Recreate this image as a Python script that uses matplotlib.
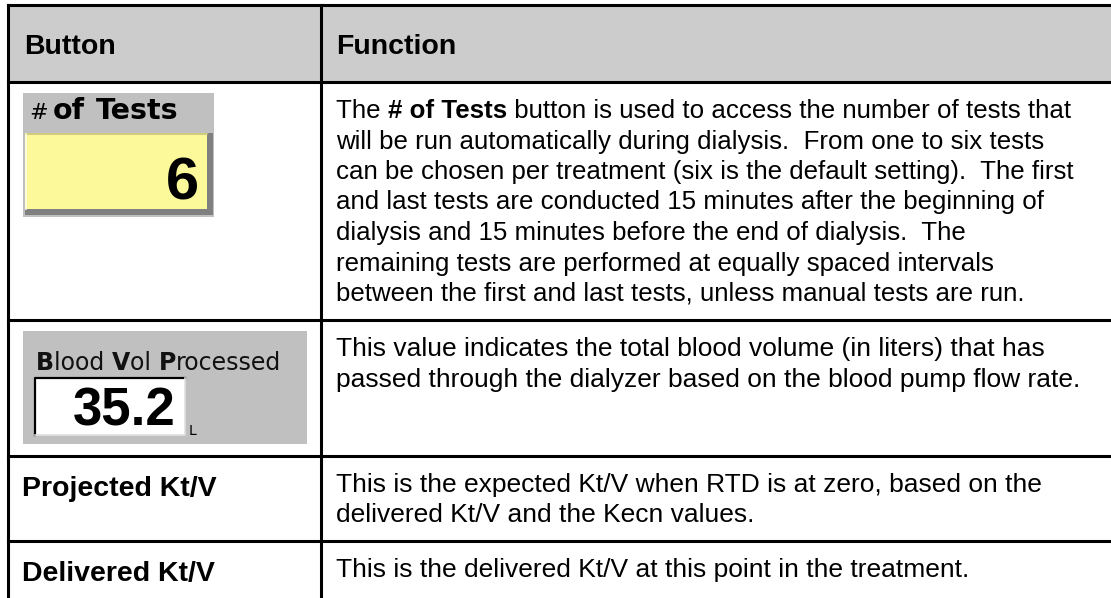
import matplotlib.pyplot as plt
from matplotlib.patches import Rectangle

# table content
headers = ["Button", "Function"]
widget1_label = ["#", "of", "Tests"]
widget1_value = "6"
widget2_label = [("B", "bold"), ("lood ", "normal"), ("V", "bold"), ("ol ", "normal"),
                 ("P", "bold"), ("rocessed", "normal")]
widget2_value = "35.2"
widget2_unit = "L"
text_buttons = ["Projected Kt/V", "Delivered Kt/V"]
descriptions = [
    ["The **# of Tests** button is used to access the number of tests that",
     "will be run automatically during dialysis.  From one to six tests",
     "can be chosen per treatment (six is the default setting).  The first",
     "and last tests are conducted 15 minutes after the beginning of",
     "dialysis and 15 minutes before the end of dialysis.  The",
     "remaining tests are performed at equally spaced intervals",
     "between the first and last tests, unless manual tests are run."],
    ["This value indicates the total blood volume (in liters) that has",
     "passed through the dialyzer based on the blood pump flow rate."],
    ["This is the expected Kt/V when RTD is at zero, based on the",
     "delivered Kt/V and the Kecn values."],
    ["This is the delivered Kt/V at this point in the treatment."],
]

# layout (pixels)
W, H = 1111, 598
left, right, col = 8, 1130, 321
rows = [5, 82, 320, 456, 541, 640]
FONT = "Liberation Sans"
body_sizes = [18.6, 19, 19, 19]
head_size = 20.5
pitch = 30.5

fig = plt.figure(figsize=(W / 100, H / 100), dpi=100)
ax = fig.add_axes([0, 0, 1, 1])
ax.set_xlim(0, W)
ax.set_ylim(H, 0)
ax.axis("off")


def rich(x, y, parts, **kw):
    prev = None
    for s, wt in parts:
        if prev is None:
            prev = ax.text(x, y, s, va="baseline", ha="left", fontweight=wt, **kw)
        else:
            prev = ax.annotate(s, xy=(1, y), xycoords=(prev, "data"), va="baseline",
                               ha="left", fontweight=wt, **kw)


# header band and grid
ax.add_patch(Rectangle((left, rows[0]), right - left, rows[1] - rows[0], fc="#cccccc", ec="none"))
lw = 2.2
for y in rows[:-1]:
    ax.plot([left, right], [y, y], color="black", lw=lw, solid_capstyle="projecting")
for x in [left, col, right]:
    ax.plot([x, x], [rows[0], rows[-1]], color="black", lw=lw, solid_capstyle="projecting")

ax.text(24, 54, headers[0], fontsize=head_size, fontweight="bold", family=FONT, va="baseline")
ax.text(336, 54, headers[1], fontsize=head_size, fontweight="bold", family=FONT, va="baseline")

# descriptions
for i, lines in enumerate(descriptions):
    y0 = rows[i + 1] + 36
    for j, line in enumerate(lines):
        segs = line.split("**")
        parts = [(s, "bold" if k % 2 else "normal") for k, s in enumerate(segs) if s]
        rich(336, y0 + j * pitch, parts, fontsize=body_sizes[i], family=FONT, color="black")

# widget 1: "# of Tests"
ax.add_patch(Rectangle((23, 93), 191, 124, fc="#c0c0c0", ec="none"))
ax.add_patch(Rectangle((25, 133), 188, 82, fc="#808080", ec="none"))
ax.add_patch(Rectangle((25, 133), 182, 76, fc="#fcf99b", ec="none"))
ax.plot([25, 207], [134, 134], color="#c8c47a", lw=1.2)
ax.plot([26, 26], [134, 209], color="#fffde0", lw=1.2)
ax.text(29, 119, widget1_label[0], fontsize=16, family="DejaVu Sans", va="baseline")
ax.text(53, 119, widget1_label[1], fontsize=20.5, fontweight="bold", family="DejaVu Sans", va="baseline")
ax.text(96, 119, widget1_label[2], fontsize=20.5, fontweight="bold", family="DejaVu Sans", va="baseline")
ax.text(199, 200, widget1_value, fontsize=43, fontweight="bold", family=FONT, ha="right", va="baseline")

# widget 2: "Blood Vol Processed"
ax.add_patch(Rectangle((23, 331), 284, 113, fc="#c0c0c0", ec="none"))
rich(36, 370, widget2_label, fontsize=17, family="DejaVu Sans", color="#111111")
ax.add_patch(Rectangle((35, 378), 150, 57, fc="white", ec="none"))
ax.plot([35, 35, 185], [435, 378, 378], color="black", lw=1.6)
ax.plot([35, 185, 185], [435, 435, 378], color="#e0e0e0", lw=1.2)
ax.text(176, 426, widget2_value, fontsize=38, fontweight="bold",
        family=FONT, ha="right", va="baseline")
ax.text(189, 435, widget2_unit, fontsize=10, family="DejaVu Sans", va="baseline")

# text-only buttons
for i, lbl in enumerate(text_buttons):
    ax.text(22, rows[i + 3] + 40, lbl, fontsize=head_size, fontweight="bold", family=FONT, va="baseline")

fig.savefig("out.png", dpi=100)
